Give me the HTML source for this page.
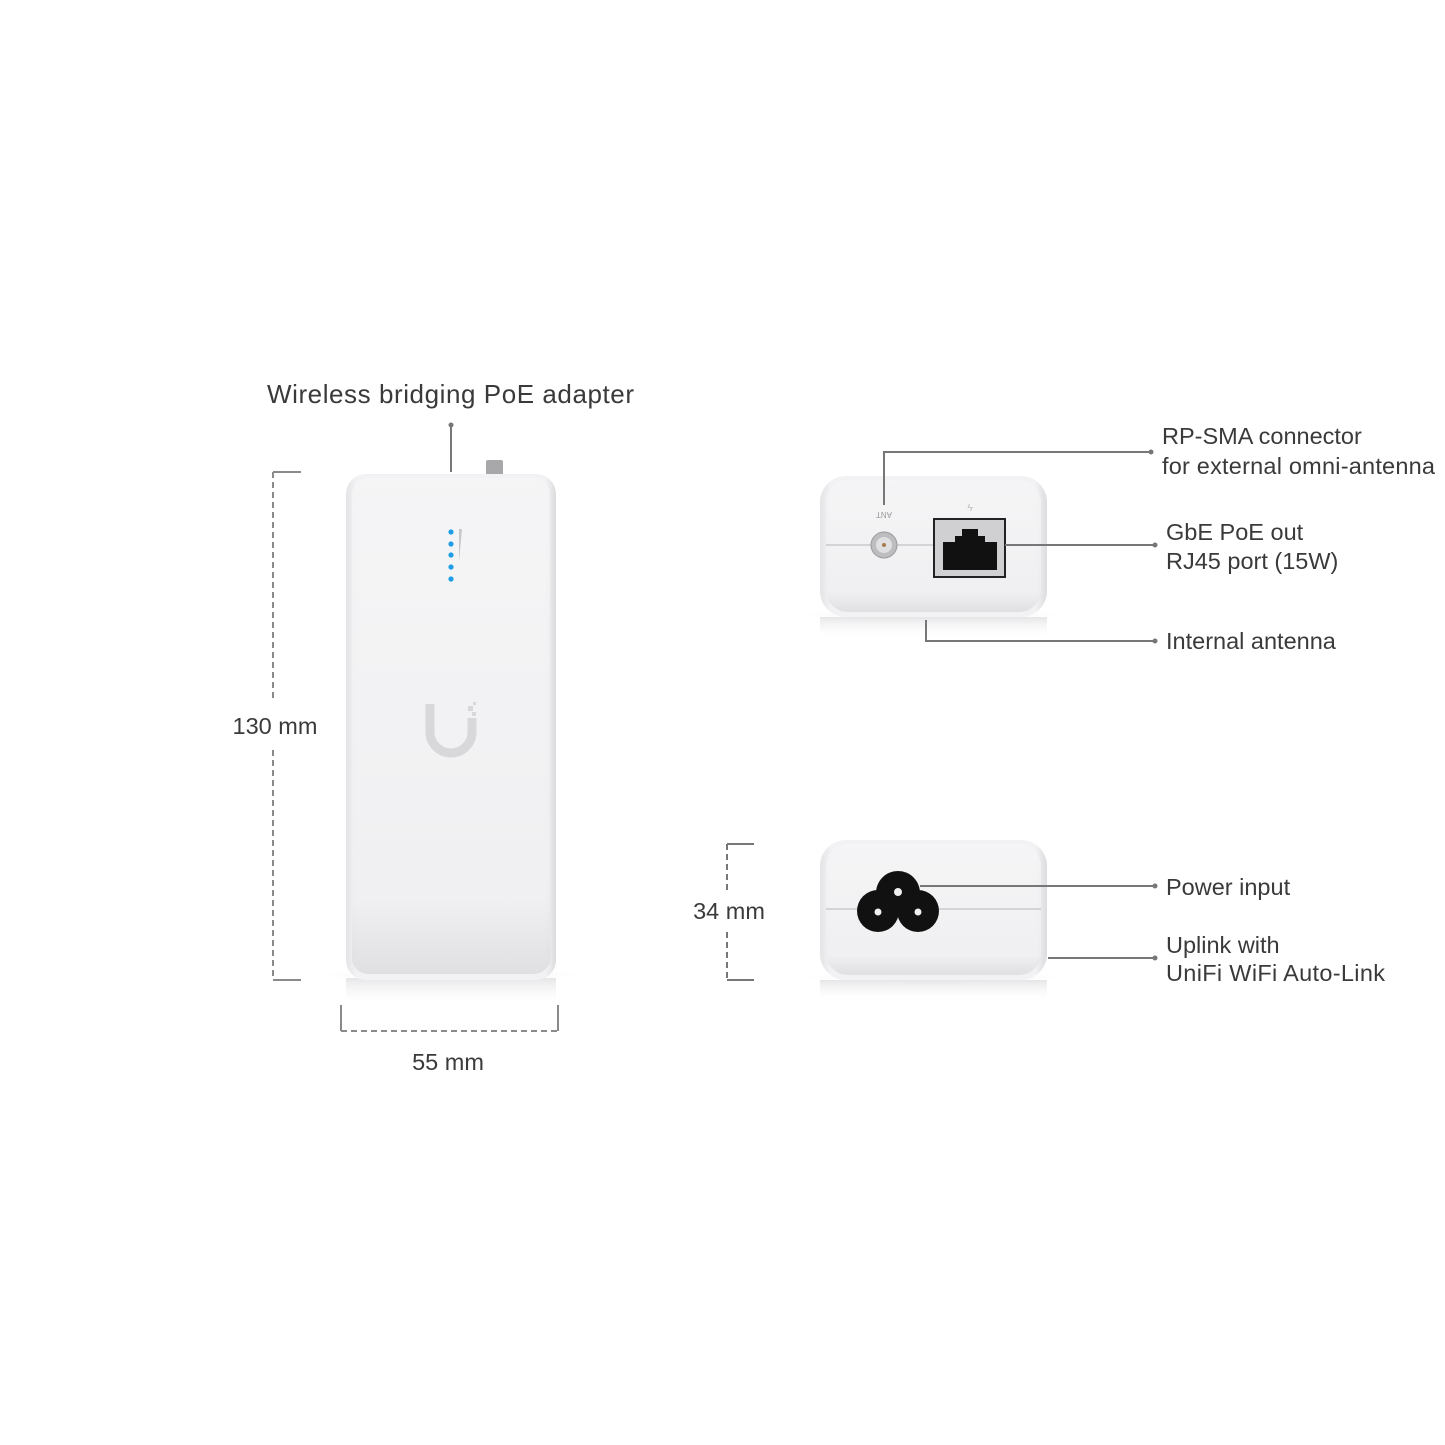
<!DOCTYPE html>
<html><head><meta charset="utf-8"><style>
html,body{margin:0;padding:0;background:#fff}
svg{display:block}
text{font-family:"Liberation Sans",sans-serif;fill:#3a3a3a}
.l{font-size:23.5px}
</style></head><body>
<svg width="1445" height="1445" viewBox="0 0 1445 1445" xmlns="http://www.w3.org/2000/svg">
<defs>
<linearGradient id="bodyH" x1="0" x2="1" y1="0" y2="0">
<stop offset="0" stop-color="#e4e4e6"/><stop offset="0.05" stop-color="#f2f2f4"/><stop offset="0.95" stop-color="#f2f2f4"/><stop offset="1" stop-color="#dcdcde"/>
</linearGradient>
<linearGradient id="bodyV" x1="0" x2="0" y1="0" y2="1">
<stop offset="0" stop-color="#f6f6f7"/><stop offset="0.85" stop-color="#efeff1"/><stop offset="1" stop-color="#d8d8da"/>
</linearGradient>
<radialGradient id="shadow" cx="0.5" cy="0.5" r="0.5">
<stop offset="0" stop-color="#cfcfd1" stop-opacity="0.9"/><stop offset="1" stop-color="#fff" stop-opacity="0"/>
</radialGradient>
<linearGradient id="refl" x1="0" x2="0" y1="0" y2="1">
<stop offset="0" stop-color="#e6e6e8"/><stop offset="1" stop-color="#fff" stop-opacity="0"/>
</linearGradient>
</defs>

<text x="267" y="403" class="l" style="font-size:26px" textLength="367">Wireless bridging PoE adapter</text>
<circle cx="451" cy="425" r="2.5" fill="#777"/>
<line x1="451" y1="425" x2="451" y2="472" stroke="#777" stroke-width="2"/>

<ellipse cx="451" cy="975" rx="140" ry="8" fill="url(#shadow)"/>
<rect x="346" y="978" width="210" height="28" fill="url(#refl)"/>
<rect x="486" y="460" width="17" height="16" rx="2" fill="#a8a8aa"/>
<rect x="346" y="474" width="210" height="506" rx="20" fill="url(#bodyH)"/>
<rect x="352" y="478" width="198" height="496" rx="16" fill="url(#bodyV)" opacity="0.7"/>
<g fill="#1f9de6">
<circle cx="451" cy="532" r="2.6"/><circle cx="451" cy="544" r="2.6"/><circle cx="451" cy="555" r="2.6"/><circle cx="451" cy="567" r="2.6"/><circle cx="451" cy="579" r="2.6"/>
</g>
<polygon points="459,529 462,529 459,562" fill="#c8c8ca"/>
<path d="M430 704 V732 A21 21 0 0 0 472 732 V718" fill="none" stroke="#d8d8da" stroke-width="9"/>
<rect x="468" y="706" width="5" height="5" fill="#d8d8da"/><rect x="473" y="702" width="3" height="3" fill="#d8d8da"/><rect x="472" y="712" width="4" height="4" fill="#d8d8da"/>

<g stroke="#8a8a8a" stroke-width="2" fill="none">
<line x1="273" y1="472" x2="301" y2="472"/>
<line x1="273" y1="980" x2="301" y2="980"/>
<line x1="273" y1="472" x2="273" y2="700" stroke-dasharray="6,4"/>
<line x1="273" y1="750" x2="273" y2="980" stroke-dasharray="6,4"/>
<line x1="341" y1="1005" x2="341" y2="1031"/>
<line x1="558" y1="1005" x2="558" y2="1031"/>
<line x1="341" y1="1031" x2="558" y2="1031" stroke-dasharray="6,4"/>
</g>
<text x="275" y="734" class="l" text-anchor="middle">130 mm</text>
<text x="448" y="1070" class="l" text-anchor="middle">55 mm</text>

<ellipse cx="934" cy="615" rx="140" ry="8" fill="url(#shadow)"/>
<rect x="820" y="617" width="227" height="22" fill="url(#refl)"/>
<rect x="820" y="476" width="227" height="141" rx="26" fill="url(#bodyH)"/>
<rect x="826" y="480" width="215" height="132" rx="22" fill="url(#bodyV)" opacity="0.7"/>
<line x1="826" y1="545" x2="1041" y2="545" stroke="#c9c9cb" stroke-width="1.5"/>
<circle cx="884" cy="545" r="13" fill="#bdbdc0" stroke="#9a9a9c" stroke-width="1"/>
<circle cx="884" cy="545" r="8" fill="#e0e0e2"/>
<circle cx="884" cy="545" r="2" fill="#a87a50"/>
<text x="884" y="518" style="font-size:8px;fill:#999" text-anchor="middle" transform="rotate(180 884 515)">ANT</text>
<rect x="934" y="519" width="71" height="58" fill="#d0d0d2" stroke="#222" stroke-width="2"/>
<path d="M943 542 H955 V536 H962 V529 H978 V536 H985 V542 H997 V570 H943 Z" fill="#111"/>
<text x="970" y="511" style="font-size:10px;fill:#bbb" text-anchor="middle">ϟ</text>
<g stroke="#777" stroke-width="2" fill="none">
<polyline points="884,505 884,452 1151,452"/>
<line x1="1005" y1="545" x2="1155" y2="545"/>
<polyline points="926,620 926,641 1155,641"/>
</g>
<g fill="#777"><circle cx="1151" cy="452" r="2.5"/><circle cx="1155" cy="545" r="2.5"/><circle cx="1155" cy="641" r="2.5"/></g>
<text x="1162" y="444" class="l">RP-SMA connector</text>
<text x="1162" y="474" class="l" textLength="273">for external omni-antenna</text>
<text x="1166" y="540" class="l">GbE PoE out</text>
<text x="1166" y="569" class="l">RJ45 port (15W)</text>
<text x="1166" y="649" class="l">Internal antenna</text>

<ellipse cx="934" cy="978" rx="140" ry="8" fill="url(#shadow)"/>
<rect x="820" y="980" width="227" height="22" fill="url(#refl)"/>
<rect x="820" y="840" width="227" height="140" rx="26" fill="url(#bodyH)"/>
<rect x="826" y="844" width="215" height="131" rx="22" fill="url(#bodyV)" opacity="0.7"/>
<line x1="826" y1="909" x2="1041" y2="909" stroke="#c9c9cb" stroke-width="1.5"/>
<g fill="#111">
<circle cx="898" cy="893" r="22"/><circle cx="878" cy="911" r="21"/><circle cx="918" cy="911" r="21"/>
</g>
<g fill="#eee"><circle cx="898" cy="892" r="4"/><circle cx="878" cy="912" r="3.5"/><circle cx="918" cy="912" r="3.5"/></g>
<g stroke="#777" stroke-width="2" fill="none">
<line x1="920" y1="886" x2="1155" y2="886"/>
<line x1="1048" y1="958" x2="1155" y2="958"/>
<line x1="727" y1="844" x2="754" y2="844"/>
<line x1="727" y1="980" x2="754" y2="980"/>
<line x1="727" y1="844" x2="727" y2="892" stroke-dasharray="6,4"/>
<line x1="727" y1="932" x2="727" y2="980" stroke-dasharray="6,4"/>
</g>
<g fill="#777"><circle cx="1155" cy="886" r="2.5"/><circle cx="1155" cy="958" r="2.5"/></g>
<text x="729" y="919" class="l" text-anchor="middle">34 mm</text>
<text x="1166" y="895" class="l">Power input</text>
<text x="1166" y="953" class="l">Uplink with</text>
<text x="1166" y="981" class="l" textLength="219">UniFi WiFi Auto-Link</text>
</svg>
</body></html>
